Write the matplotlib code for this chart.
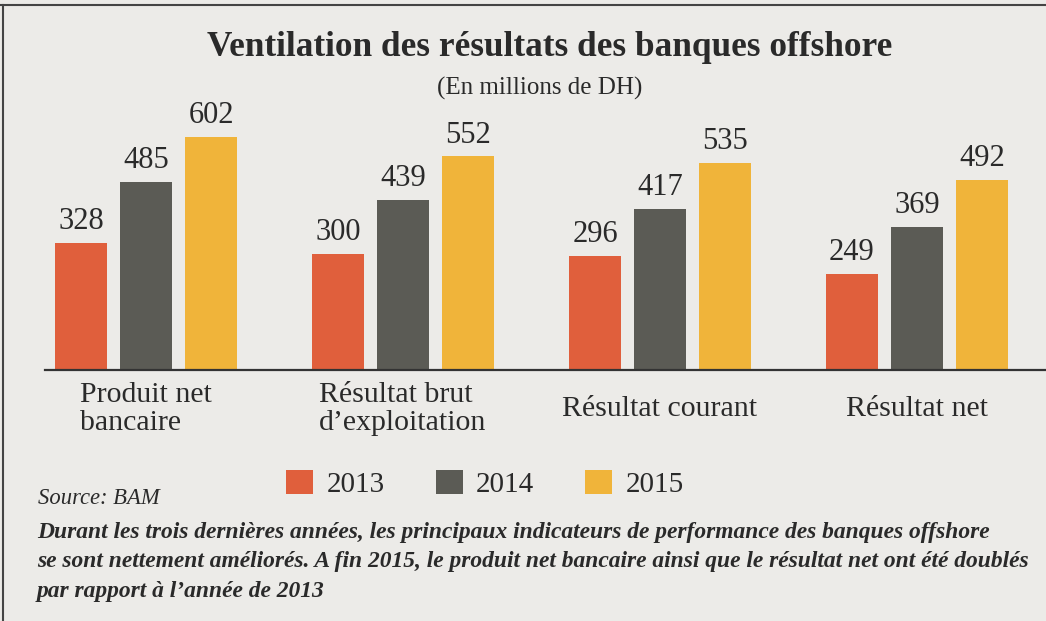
import matplotlib.pyplot as plt
import numpy as np
from matplotlib.lines import Line2D
from matplotlib.patches import Patch

# Data (millions de DH)
categories = ['Produit net\nbancaire', 'Résultat brut\nd\u2019exploitation',
              'Résultat courant', 'Résultat net']
years = ['2013', '2014', '2015']
v2013 = [328, 300, 296, 249]
v2014 = [485, 439, 417, 369]
v2015 = [602, 552, 535, 492]

colors = ['#e05f3c', '#5b5b55', '#f0b43a']
bg = '#ecebe8'
ink = '#2a2a2a'

plt.rcParams['font.family'] = ['Liberation Serif', 'DejaVu Serif']

W, H = 1046, 621
fig = plt.figure(figsize=(W / 100, H / 100), dpi=100, facecolor=bg)

def fx(px):
    return px / W

def fy(py):
    return 1 - py / H

# axes: baseline at y=370px, top at 100px, from x=45 to the right edge
ax = fig.add_axes([fx(45), fy(370), fx(1046 - 45), (370 - 100) / H])
ax.set_facecolor(bg)

x = np.arange(len(categories))
bar_w = 0.202
step = 0.253
series = [v2013, v2014, v2015]
for i, vals in enumerate(series):
    pos = x + (i - 1) * step
    ax.bar(pos, vals, width=bar_w, color=colors[i], label=years[i])
    for p, v in zip(pos, vals):
        ax.annotate(str(v), (p, v), xytext=(0, 5), textcoords='offset points',
                    ha='center', va='bottom', fontsize=22, color=ink)

ax.set_xlim(-0.393, 3.502)
ax.set_ylim(0, 698)
for s in ['top', 'right', 'left']:
    ax.spines[s].set_visible(False)
ax.spines['bottom'].set_color('#333333')
ax.spines['bottom'].set_linewidth(1.6)
ax.set_yticks([])
ax.set_xticks(x)
ax.set_xticklabels(categories, fontsize=21.5, color=ink)
ax.tick_params(axis='x', length=0, pad=28)
for lab in ax.get_xticklabels():
    lab.set_va('center')
    lab.set_multialignment('left')
    lab.set_linespacing(1.12)

# title and subtitle
fig.text(fx(550), fy(47), 'Ventilation des résultats des banques offshore',
         ha='center', va='center', fontsize=25.4, fontweight='bold', color=ink)
fig.text(fx(540), fy(88), '(En millions de DH)', ha='center', va='center',
         fontsize=18, color=ink)

# legend
handles = [Patch(facecolor=c, edgecolor='none') for c in colors]
fig.legend(handles, years, loc='center', bbox_to_anchor=(fx(485), fy(484)),
           ncol=3, frameon=False, fontsize=21, handlelength=0.93,
           handleheight=0.9, handletextpad=0.45, columnspacing=1.75,
           labelcolor=ink)

# source and caption
fig.text(fx(38), fy(499), 'Source: BAM', ha='left', va='center',
         fontsize=16.3, style='italic', color=ink)
caption = ('Durant les trois dernières années, les principaux indicateurs de performance des banques offshore\n'
           'se sont nettement améliorés. A fin 2015, le produit net bancaire ainsi que le résultat net ont été doublés\n'
           'par rapport à l\u2019année de 2013')
fig.text(fx(37), fy(522), caption, ha='left', va='top', fontsize=16.9,
         style='italic', fontweight='bold', color=ink, linespacing=1.53)

# frame lines of the printed box
fig.add_artist(Line2D([0, 1], [fy(5), fy(5)], color='#444444', lw=1.5))
fig.add_artist(Line2D([fx(3), fx(3)], [fy(5), 0], color='#444444', lw=1.5))

fig.savefig('out.png', dpi=100, facecolor=bg)
